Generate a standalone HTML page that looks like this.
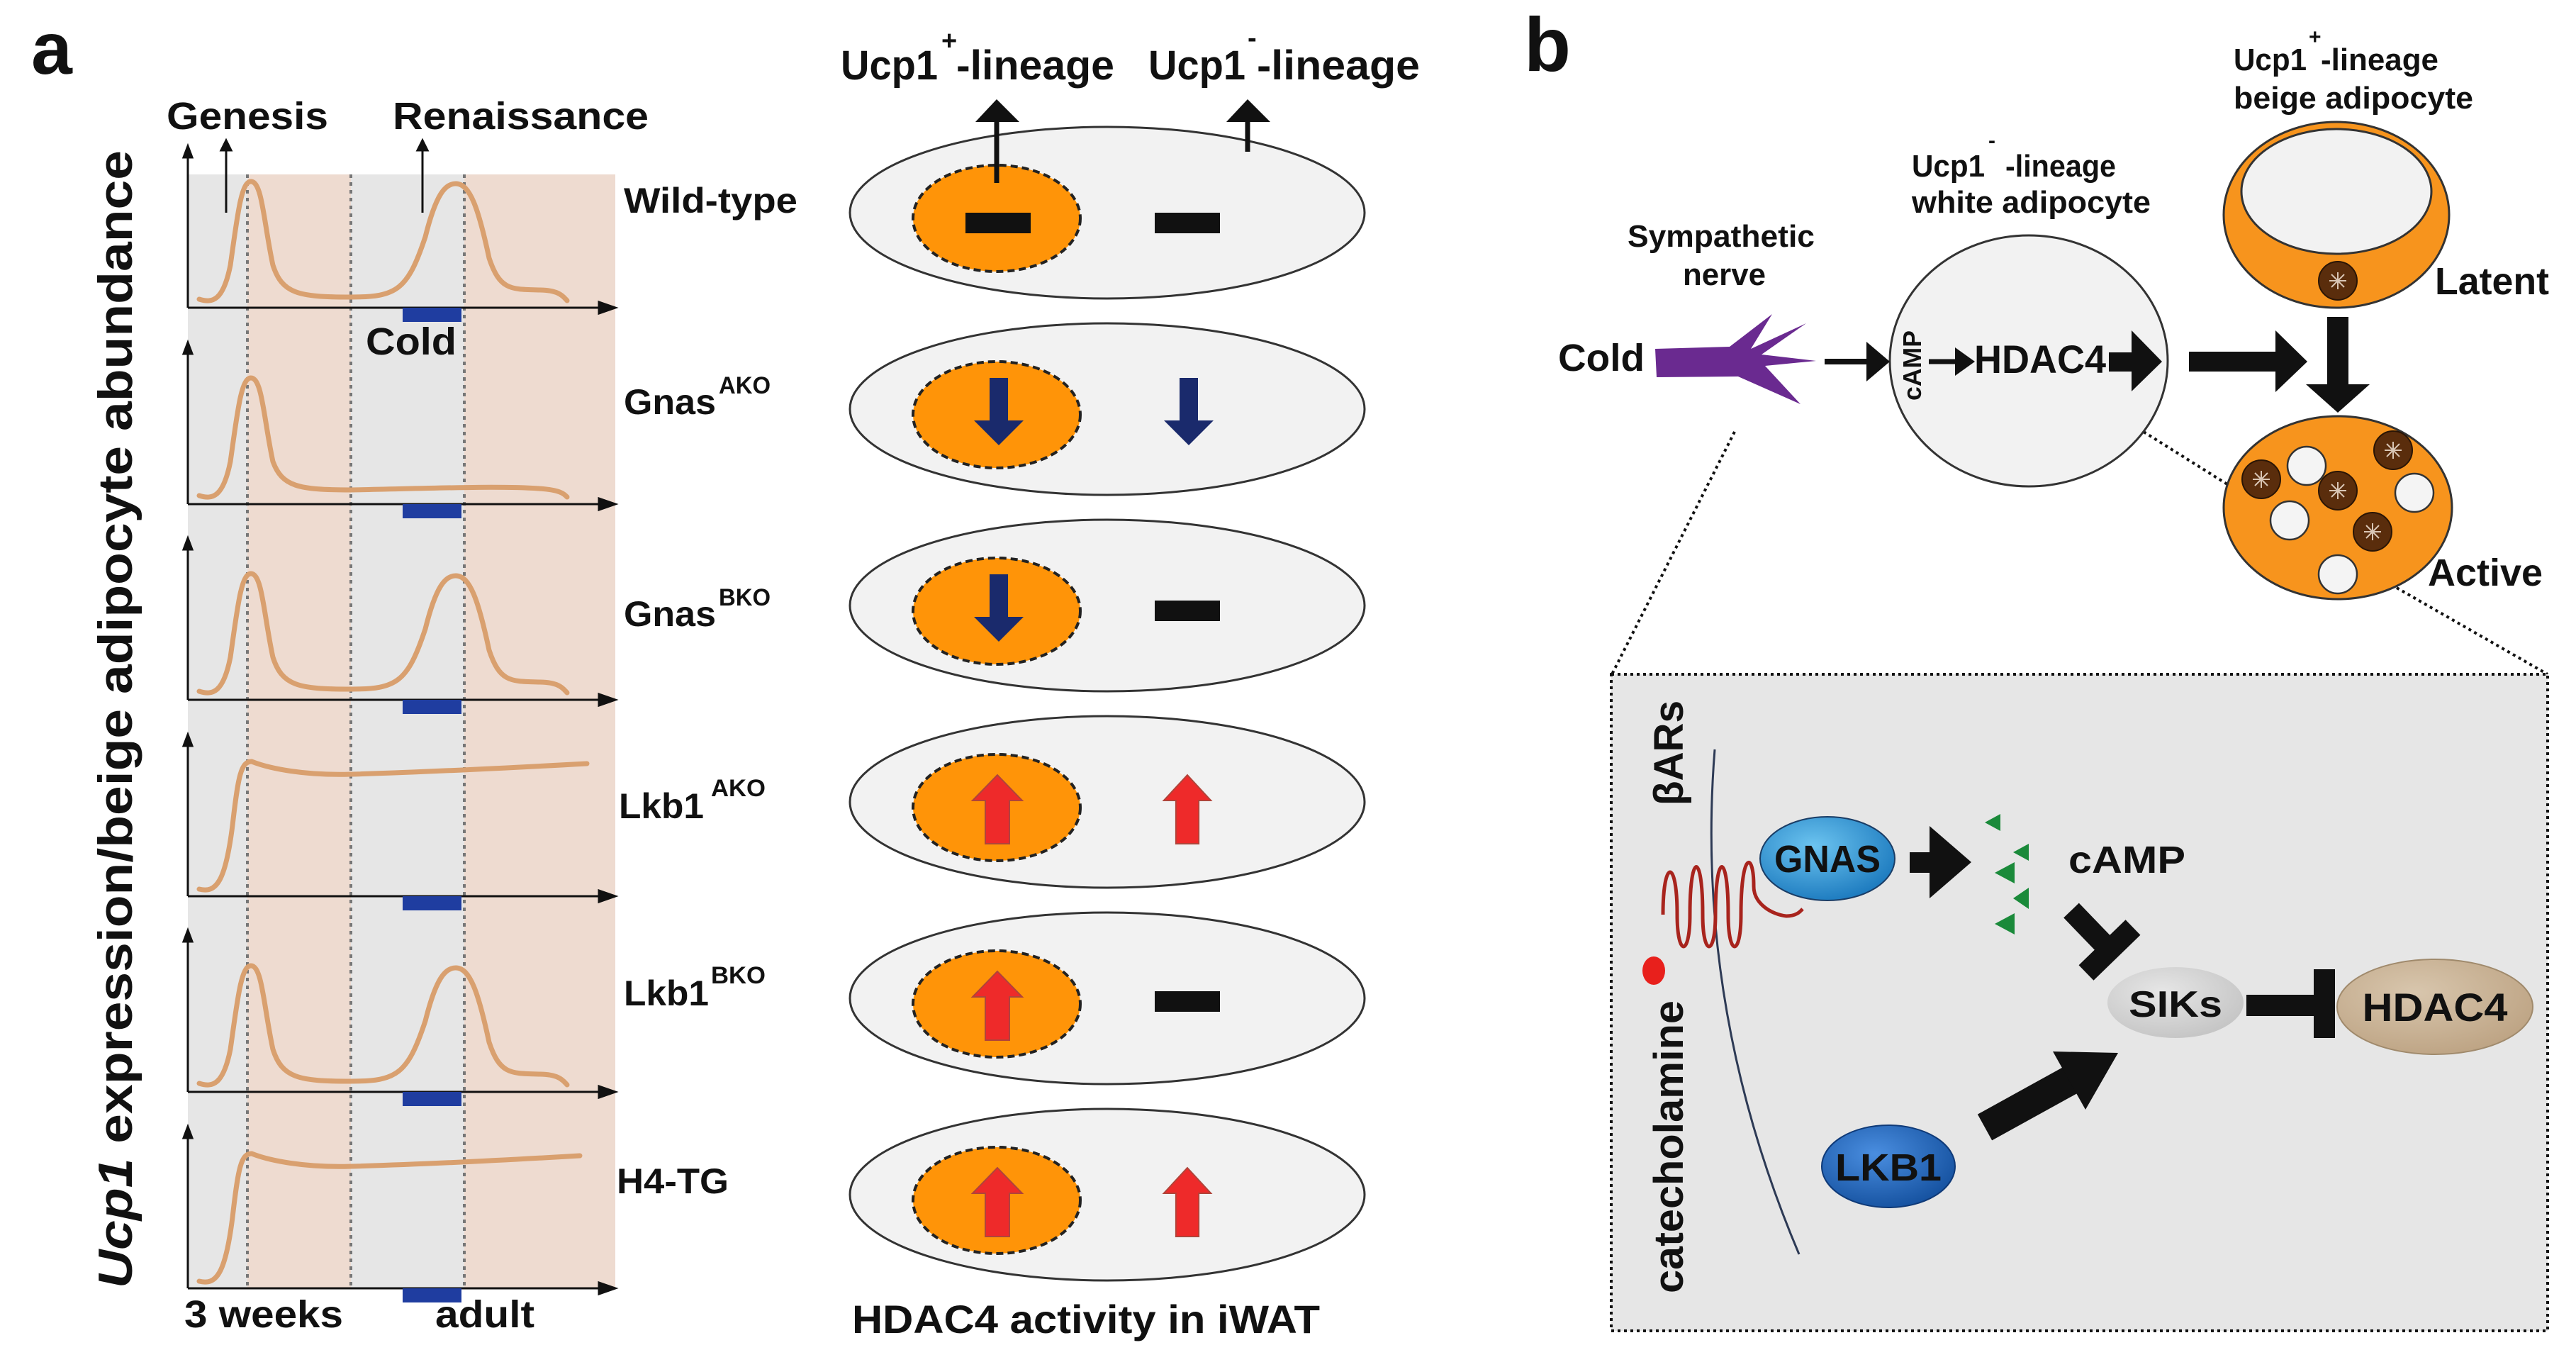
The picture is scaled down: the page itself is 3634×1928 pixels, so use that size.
<!DOCTYPE html>
<html><head><meta charset="utf-8"><style>
html,body{margin:0;padding:0;background:#fff}
svg{display:block}
.b{font-family:"Liberation Sans",Arial,sans-serif;font-weight:bold;fill:#111}
.n{font-family:"Liberation Sans",Arial,sans-serif;font-weight:bold;fill:#111}
</style></head><body>
<svg width="3634" height="1928" viewBox="0 0 3634 1928" xmlns="http://www.w3.org/2000/svg">
<defs>
<radialGradient id="gn" cx="0.4" cy="0.35" r="0.7"><stop offset="0" stop-color="#6cc4f0"/><stop offset="1" stop-color="#1a78bd"/></radialGradient>
<radialGradient id="lk" cx="0.4" cy="0.35" r="0.7"><stop offset="0" stop-color="#4a8ee0"/><stop offset="1" stop-color="#14509e"/></radialGradient>
<radialGradient id="sk" cx="0.4" cy="0.35" r="0.7"><stop offset="0" stop-color="#e6e6e6"/><stop offset="1" stop-color="#c4c4c4"/></radialGradient>
<radialGradient id="hd" cx="0.4" cy="0.35" r="0.7"><stop offset="0" stop-color="#d8c6ad"/><stop offset="1" stop-color="#bda383"/></radialGradient>
<g id="nuc"><circle r="27" fill="#5a2d0c" stroke="#2a1505" stroke-width="2"/><path d="M-12,0H12M0,-12V12M-9,-9L9,9M-9,9L9,-9" stroke="#d9c6b5" stroke-width="2"/></g>
<g id="drop"><circle r="27" fill="#f4f4f4" stroke="#333" stroke-width="2.5"/></g>
<g id="upL"><polygon points="-17,59 17,59 17,-2 35,-2 0,-38 -35,-2 -17,-2" fill="#ee2a2a" stroke="#b0443a" stroke-width="2"/></g>
<g id="dnL"><polygon points="-13,-38 13,-38 13,22 35,22 0,57 -35,22 -13,22" fill="#1a2a6c"/></g>
<g id="bar"><rect x="-46" y="-15" width="92" height="29" fill="#111"/></g>
</defs>

<!-- ===== Panel a ===== -->
<text class="b" x="44" y="104" font-size="104">a</text>

<rect x="265" y="246" width="84" height="1571" fill="#e6e6e6"/>
<rect x="349" y="246" width="146" height="1571" fill="#eedbd0"/>
<rect x="495" y="246" width="160" height="1571" fill="#e6e6e6"/>
<rect x="655" y="246" width="213" height="1571" fill="#eedbd0"/>
<g stroke="#777" stroke-width="4" stroke-dasharray="5 6">
<line x1="349" y1="246" x2="349" y2="1817"/><line x1="495" y1="246" x2="495" y2="1817"/><line x1="655" y1="246" x2="655" y2="1817"/>
</g>

<text class="b" x="235" y="182" font-size="54" textLength="228" lengthAdjust="spacingAndGlyphs">Genesis</text>
<text class="b" x="554" y="182" font-size="54" textLength="361" lengthAdjust="spacingAndGlyphs">Renaissance</text>
<g stroke="#111" stroke-width="3" fill="#111">
<line x1="319" y1="300" x2="319" y2="210"/><polygon points="312,212 326,212 319,198"/>
<line x1="596" y1="300" x2="596" y2="210"/><polygon points="589,212 603,212 596,198"/>
</g>

<g fill="none" stroke="#d9a06f" stroke-width="7" stroke-linecap="round">
<path transform="translate(0,434)" d="M281,-12 C300,-6 315,-10 325,-60 C335,-130 340,-178 354,-178 C370,-178 372,-120 385,-60 C398,-20 420,-15 495,-15 C560,-15 575,-25 600,-100 C615,-160 628,-175 643,-175 C663,-175 675,-140 690,-70 C705,-25 720,-26 760,-25 C790,-25 795,-15 800,-10"/>
<path transform="translate(0,711)" d="M281,-12 C300,-6 315,-10 325,-60 C335,-130 340,-178 354,-178 C370,-178 372,-120 385,-60 C398,-25 420,-20 495,-20 C600,-22 700,-26 760,-22 C790,-20 795,-15 800,-10"/>
<path transform="translate(0,987)" d="M281,-12 C300,-6 315,-10 325,-60 C335,-130 340,-178 354,-178 C370,-178 372,-120 385,-60 C398,-20 420,-15 495,-15 C560,-15 575,-25 600,-100 C615,-160 628,-175 643,-175 C663,-175 675,-140 690,-70 C705,-25 720,-26 760,-25 C790,-25 795,-15 800,-10"/>
<path transform="translate(0,1264)" d="M281,-10 C305,-4 318,-20 328,-100 C336,-170 340,-190 355,-190 C380,-180 430,-170 495,-172 C600,-175 700,-180 828,-187"/>
<path transform="translate(0,1540)" d="M281,-12 C300,-6 315,-10 325,-60 C335,-130 340,-178 354,-178 C370,-178 372,-120 385,-60 C398,-20 420,-15 495,-15 C560,-15 575,-25 600,-100 C615,-160 628,-175 643,-175 C663,-175 675,-140 690,-70 C705,-25 720,-26 760,-25 C790,-25 795,-15 800,-10"/>
<path transform="translate(0,1817)" d="M281,-10 C305,-4 318,-20 328,-100 C336,-170 340,-190 355,-190 C380,-180 430,-170 495,-172 C600,-175 700,-180 818,-187"/>
</g>
<g stroke="#111" stroke-width="3" fill="#111">
<g transform="translate(0,434)"><line x1="265" y1="0" x2="265" y2="-215"/><polygon points="259,-212 271,-212 265,-228"/><line x1="265" y1="0" x2="850" y2="0"/><polygon points="845,-8 868,0 845,8"/><rect x="568" y="0" width="83" height="20" fill="#1f3da0" stroke="none"/></g>
<g transform="translate(0,711)"><line x1="265" y1="0" x2="265" y2="-215"/><polygon points="259,-212 271,-212 265,-228"/><line x1="265" y1="0" x2="850" y2="0"/><polygon points="845,-8 868,0 845,8"/><rect x="568" y="0" width="83" height="20" fill="#1f3da0" stroke="none"/></g>
<g transform="translate(0,987)"><line x1="265" y1="0" x2="265" y2="-215"/><polygon points="259,-212 271,-212 265,-228"/><line x1="265" y1="0" x2="850" y2="0"/><polygon points="845,-8 868,0 845,8"/><rect x="568" y="0" width="83" height="20" fill="#1f3da0" stroke="none"/></g>
<g transform="translate(0,1264)"><line x1="265" y1="0" x2="265" y2="-215"/><polygon points="259,-212 271,-212 265,-228"/><line x1="265" y1="0" x2="850" y2="0"/><polygon points="845,-8 868,0 845,8"/><rect x="568" y="0" width="83" height="20" fill="#1f3da0" stroke="none"/></g>
<g transform="translate(0,1540)"><line x1="265" y1="0" x2="265" y2="-215"/><polygon points="259,-212 271,-212 265,-228"/><line x1="265" y1="0" x2="850" y2="0"/><polygon points="845,-8 868,0 845,8"/><rect x="568" y="0" width="83" height="20" fill="#1f3da0" stroke="none"/></g>
<g transform="translate(0,1817)"><line x1="265" y1="0" x2="265" y2="-215"/><polygon points="259,-212 271,-212 265,-228"/><line x1="265" y1="0" x2="850" y2="0"/><polygon points="845,-8 868,0 845,8"/><rect x="568" y="0" width="83" height="20" fill="#1f3da0" stroke="none"/></g>
</g>
<text class="b" x="516" y="500" font-size="54" textLength="128" lengthAdjust="spacingAndGlyphs">Cold</text>

<text class="b" x="880" y="300" font-size="50" textLength="245" lengthAdjust="spacingAndGlyphs">Wild-type</text>
<text class="b" x="880" y="584" font-size="50" textLength="130" lengthAdjust="spacingAndGlyphs">Gnas</text><text class="b" x="1014" y="555" font-size="34" textLength="73" lengthAdjust="spacingAndGlyphs">AKO</text>
<text class="b" x="880" y="883" font-size="50" textLength="130" lengthAdjust="spacingAndGlyphs">Gnas</text><text class="b" x="1014" y="854" font-size="34" textLength="73" lengthAdjust="spacingAndGlyphs">BKO</text>
<text class="b" x="873" y="1154" font-size="50" textLength="120" lengthAdjust="spacingAndGlyphs">Lkb1</text><text class="b" x="1003" y="1123" font-size="34" textLength="77" lengthAdjust="spacingAndGlyphs">AKO</text>
<text class="b" x="880" y="1418" font-size="50" textLength="120" lengthAdjust="spacingAndGlyphs">Lkb1</text><text class="b" x="1003" y="1387" font-size="34" textLength="77" lengthAdjust="spacingAndGlyphs">BKO</text>
<text class="b" x="870" y="1683" font-size="50" textLength="158" lengthAdjust="spacingAndGlyphs">H4-TG</text>

<text class="b" x="260" y="1872" font-size="54" textLength="224" lengthAdjust="spacingAndGlyphs">3 weeks</text>
<text class="b" x="614" y="1872" font-size="54" textLength="140" lengthAdjust="spacingAndGlyphs">adult</text>

<text class="b" transform="translate(186,1817) rotate(-90)" x="0" y="0" font-size="68" textLength="1605" lengthAdjust="spacingAndGlyphs"><tspan font-style="italic">Ucp1</tspan> expression/beige adipocyte abundance</text>

<text class="b" x="1186" y="112" font-size="58" textLength="137" lengthAdjust="spacingAndGlyphs">Ucp1</text>
<text class="b" x="1328" y="70" font-size="38">+</text>
<text class="b" x="1349" y="112" font-size="58" textLength="223" lengthAdjust="spacingAndGlyphs">-lineage</text>
<text class="b" x="1620" y="112" font-size="58" textLength="137" lengthAdjust="spacingAndGlyphs">Ucp1</text>
<text class="b" x="1760" y="66" font-size="38">-</text>
<text class="b" x="1773" y="112" font-size="58" textLength="230" lengthAdjust="spacingAndGlyphs">-lineage</text>

<g stroke="#333" stroke-width="3">
<ellipse cx="1562" cy="300" rx="363" ry="121" fill="#f2f2f2"/>
<ellipse cx="1562" cy="577" rx="363" ry="121" fill="#f2f2f2"/>
<ellipse cx="1562" cy="854" rx="363" ry="121" fill="#f2f2f2"/>
<ellipse cx="1562" cy="1131" rx="363" ry="121" fill="#f2f2f2"/>
<ellipse cx="1562" cy="1408" rx="363" ry="121" fill="#f2f2f2"/>
<ellipse cx="1562" cy="1685" rx="363" ry="121" fill="#f2f2f2"/>
</g>
<g fill="#ff9408" stroke="#222" stroke-width="4" stroke-dasharray="10 6">
<ellipse cx="1406" cy="308" rx="118" ry="75"/>
<ellipse cx="1406" cy="585" rx="118" ry="75"/>
<ellipse cx="1406" cy="862" rx="118" ry="75"/>
<ellipse cx="1406" cy="1139" rx="118" ry="75"/>
<ellipse cx="1406" cy="1416" rx="118" ry="75"/>
<ellipse cx="1406" cy="1693" rx="118" ry="75"/>
</g>
<use href="#bar" x="1408" y="315"/><use href="#bar" x="1675" y="315"/>
<use href="#dnL" x="1409" y="571"/><use href="#dnL" x="1677" y="571"/>
<use href="#dnL" x="1409" y="848"/><use href="#bar" x="1675" y="862"/>
<use href="#upL" x="1407" y="1131"/><g transform="translate(1675,1131) scale(0.95,1)"><use href="#upL"/></g>
<use href="#upL" x="1407" y="1408"/><use href="#bar" x="1675" y="1413"/>
<use href="#upL" x="1407" y="1685"/><g transform="translate(1675,1685) scale(0.95,1)"><use href="#upL"/></g>
<g stroke="#111" stroke-width="7" fill="#111">
<line x1="1406" y1="258" x2="1406" y2="170"/><polygon stroke="none" points="1376,172 1438,172 1406,140"/>
<line x1="1760" y1="214" x2="1760" y2="170"/><polygon stroke="none" points="1730,172 1792,172 1760,140"/>
</g>
<text class="b" x="1202" y="1880" font-size="56" textLength="660" lengthAdjust="spacingAndGlyphs">HDAC4 activity in iWAT</text>

<!-- ===== Panel b ===== -->
<text class="b" x="2150" y="100" font-size="108">b</text>

<text class="n" x="3151" y="99" font-size="44" textLength="103" lengthAdjust="spacingAndGlyphs">Ucp1</text>
<text class="n" x="3257" y="62" font-size="30">+</text>
<text class="n" x="3274" y="99" font-size="44" textLength="166" lengthAdjust="spacingAndGlyphs">-lineage</text>
<text class="n" x="3151" y="153" font-size="44" textLength="338" lengthAdjust="spacingAndGlyphs">beige adipocyte</text>
<text class="n" x="2697" y="249" font-size="44" textLength="103" lengthAdjust="spacingAndGlyphs">Ucp1</text>
<text class="n" x="2805" y="208" font-size="30">-</text>
<text class="n" x="2829" y="249" font-size="44" textLength="156" lengthAdjust="spacingAndGlyphs">-lineage</text>
<text class="n" x="2697" y="300" font-size="44" textLength="337" lengthAdjust="spacingAndGlyphs">white adipocyte</text>
<text class="n" x="2296" y="348" font-size="44" textLength="264" lengthAdjust="spacingAndGlyphs">Sympathetic</text>
<text class="n" x="2374" y="402" font-size="44" textLength="117" lengthAdjust="spacingAndGlyphs">nerve</text>

<text class="n" x="2198" y="523" font-size="54" textLength="122" lengthAdjust="spacingAndGlyphs">Cold</text>
<polygon fill="#6a2a90" points="2335,492 2440,489 2500,443 2470,492 2548,456 2485,500 2562,509 2490,516 2540,570 2452,531 2337,532"/>

<g stroke="#111" stroke-width="4" stroke-dasharray="4 5" fill="none">
<line x1="2447" y1="609" x2="2274" y2="951"/>
<line x1="3024" y1="609" x2="3142" y2="683"/>
<line x1="3381" y1="829" x2="3594" y2="951"/>
</g>

<ellipse cx="2862" cy="509" rx="196" ry="177" fill="#f2f2f2" stroke="#333" stroke-width="3"/>
<g fill="#111" stroke="#111">
<line x1="2574" y1="510" x2="2640" y2="510" stroke-width="8"/><polygon stroke="none" points="2633,482 2666,510 2633,538"/>
<line x1="2721" y1="510" x2="2762" y2="510" stroke-width="7"/><polygon stroke="none" points="2758,490 2786,510 2758,530"/>
<rect x="2975" y="497" width="38" height="27" stroke="none"/><polygon stroke="none" points="3007,466 3050,510 3007,552"/>
<rect x="3088" y="496" width="128" height="28" stroke="none"/><polygon stroke="none" points="3210,466 3255,510 3210,553"/>
<rect x="3283" y="447" width="30" height="98" stroke="none"/><polygon stroke="none" points="3253,542 3343,542 3298,582"/>
</g>
<text class="b" transform="translate(2710,565) rotate(-90)" font-size="36" textLength="99" lengthAdjust="spacingAndGlyphs">cAMP</text>
<text class="n" x="2785" y="526" font-size="56" textLength="186" lengthAdjust="spacingAndGlyphs">HDAC4</text>

<ellipse cx="3296" cy="303" rx="159" ry="131" fill="#f7941d" stroke="#333" stroke-width="3"/>
<ellipse cx="3296" cy="270" rx="134" ry="88" fill="#f2f2f2" stroke="#333" stroke-width="3"/>
<use href="#nuc" x="3298" y="396"/>
<text class="n" x="3435" y="415" font-size="54" textLength="161" lengthAdjust="spacingAndGlyphs">Latent</text>
<ellipse cx="3298" cy="716" rx="161" ry="129" fill="#f7941d" stroke="#333" stroke-width="3"/>
<use href="#drop" x="3254" y="657"/><use href="#drop" x="3406" y="695"/><use href="#drop" x="3230" y="734"/><use href="#drop" x="3298" y="810"/>
<use href="#nuc" x="3376" y="635"/><use href="#nuc" x="3190" y="676"/><use href="#nuc" x="3298" y="692"/><use href="#nuc" x="3347" y="750"/>
<text class="n" x="3425" y="826" font-size="54" textLength="162" lengthAdjust="spacingAndGlyphs">Active</text>

<rect x="2273" y="951" width="1321" height="926" fill="#e6e6e6" stroke="#111" stroke-width="4" stroke-dasharray="4 5"/>
<path d="M2419,1057 Q2390,1420 2538,1769" fill="none" stroke="#2d3a55" stroke-width="3"/>
<text class="b" transform="translate(2374,1824) rotate(-90)" font-size="58" textLength="413" lengthAdjust="spacingAndGlyphs">catecholamine</text>
<text class="b" transform="translate(2374,1136) rotate(-90)" font-size="58" textLength="148" lengthAdjust="spacingAndGlyphs">βARs</text>
<ellipse cx="2333" cy="1369" rx="16" ry="20" fill="#e8201c"/>
<path d="M2346,1290 C2346,1210 2366,1210 2366,1290 C2366,1350 2384,1350 2384,1290 C2384,1200 2402,1200 2402,1290 C2402,1350 2420,1350 2420,1290 C2420,1200 2438,1200 2438,1290 C2438,1350 2456,1350 2456,1290 C2456,1200 2474,1200 2474,1250 C2474,1275 2500,1290 2520,1292 C2535,1292 2540,1285 2543,1282" fill="none" stroke="#a8241d" stroke-width="5"/>
<ellipse cx="2578" cy="1211" rx="95" ry="59" fill="url(#gn)" stroke="#1a3d66" stroke-width="2"/>
<text class="n" x="2578" y="1230" font-size="54" text-anchor="middle" textLength="150" lengthAdjust="spacingAndGlyphs">GNAS</text>
<polygon fill="#111" points="2694,1202 2722,1202 2722,1165 2781,1216 2722,1267 2722,1231 2694,1231"/>
<g fill="#1a8a3a">
<polygon points="2822,1148 2822,1172 2800,1160"/><polygon points="2862,1190 2862,1214 2840,1202"/><polygon points="2842,1216 2842,1246 2814,1231"/><polygon points="2862,1252 2862,1282 2840,1267"/><polygon points="2842,1288 2842,1318 2814,1303"/>
</g>
<text class="n" x="2918" y="1231" font-size="54" textLength="165" lengthAdjust="spacingAndGlyphs">cAMP</text>
<g stroke="#111" stroke-width="30" fill="none">
<line x1="2922" y1="1284" x2="2975" y2="1339"/>
<line x1="2943" y1="1372" x2="3009" y2="1308"/>
<line x1="3169" y1="1418" x2="3279" y2="1418"/>
<line x1="3279" y1="1367" x2="3279" y2="1464"/>
<line x1="2800" y1="1590" x2="2925" y2="1521" stroke-width="42"/>
</g>
<polygon fill="#111" points="2988,1485 2942,1565 2896,1483"/>
<ellipse cx="3069" cy="1414" rx="96" ry="50" fill="url(#sk)"/>
<text class="n" x="3069" y="1434" font-size="52" text-anchor="middle" textLength="132" lengthAdjust="spacingAndGlyphs">SIKs</text>
<ellipse cx="3435" cy="1420" rx="138" ry="67" fill="url(#hd)" stroke="#a08a6c" stroke-width="2"/>
<text class="n" x="3435" y="1440" font-size="56" text-anchor="middle" textLength="205" lengthAdjust="spacingAndGlyphs">HDAC4</text>
<ellipse cx="2664" cy="1645" rx="94" ry="58" fill="url(#lk)" stroke="#0f3a78" stroke-width="2"/>
<text class="n" x="2664" y="1665" font-size="54" text-anchor="middle" textLength="150" lengthAdjust="spacingAndGlyphs">LKB1</text>
</svg>
</body></html>
